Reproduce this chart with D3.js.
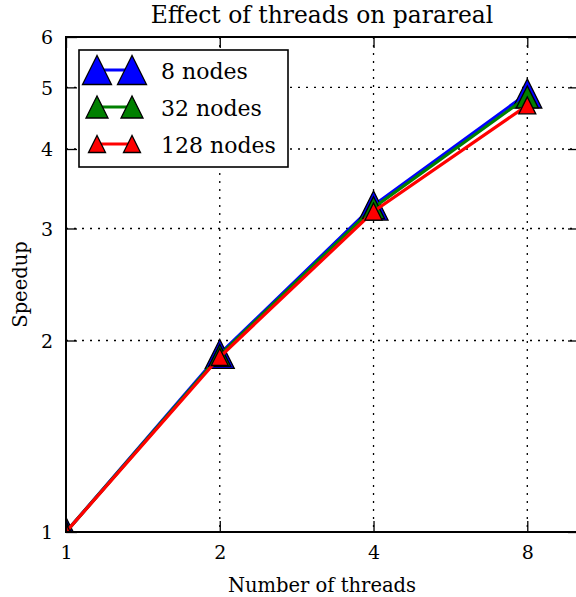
<!DOCTYPE html>
<html>
<head>
<meta charset="utf-8">
<script src="https://cdn.jsdelivr.net/npm/d3@7"></script>
<style>
  body { margin: 0; background: #fff; }
  text { font-family: "DejaVu Serif", serif; fill: #000; }
</style>
</head>
<body>
<div id="chart"></div>
<script>
// data
const threads = [1, 2, 4, 8];
const seriesNames = ["8 nodes", "32 nodes", "128 nodes"];
const speedup8 = [1, 1.905, 3.26, 4.89];
const speedup32 = [1, 1.895, 3.235, 4.83];
const speedup128 = [1, 1.884, 3.19, 4.685];
const xTicks = [1, 2, 4, 8];
const yTicks = [1, 2, 3, 4, 5, 6];

const colors = ["#0000ff", "#008000", "#ff0000"];
const markerSize = [29, 22, 17];
const allSeries = [speedup8, speedup32, speedup128];

const svgWidth = 576;
const svgHeight = 597;
// right edge of the axes sits just past the picture, like the reference
const margin = { top: 37, right: -3, bottom: 65, left: 66 };
const width = svgWidth - margin.left - margin.right;
const height = svgHeight - margin.top - margin.bottom;

const svg = d3.select("#chart").append("svg")
    .attr("width", svgWidth)
    .attr("height", svgHeight);

svg.append("rect").attr("width", svgWidth).attr("height", svgHeight).attr("fill", "#fff");

const chartGroup = svg.append("g")
    .attr("transform", `translate(${margin.left}, ${margin.top})`);

// x max 10 so 8 lands at the same place as the reference
const x = d3.scaleLog().base(2).domain([1, 10.1]).range([0, width]);
const y = d3.scaleLog().domain([1, 6]).range([height, 0]);

// grid
const grid = chartGroup.append("g");
grid.selectAll(".gx").data(xTicks.slice(1)).enter().append("line")
    .attr("x1", d => x(d)).attr("x2", d => x(d))
    .attr("y1", 0).attr("y2", height)
    .attr("stroke", "#000").attr("stroke-width", 1.3).attr("stroke-dasharray", "2,6");
grid.selectAll(".gy").data(yTicks.slice(1, -1)).enter().append("line")
    .attr("y1", d => y(d)).attr("y2", d => y(d))
    .attr("x1", 0).attr("x2", width)
    .attr("stroke", "#000").attr("stroke-width", 1.3).attr("stroke-dasharray", "2,6");

// clip to axes area
svg.append("defs").append("clipPath").attr("id", "clip")
    .append("rect").attr("width", width).attr("height", height);

const plot = chartGroup.append("g").attr("clip-path", "url(#clip)");

const line = d3.line().x((d, i) => x(threads[i])).y(d => y(d));

function triangle(s) {
    const h = s / 2;
    return `M0,${-h}L${-h},${h}L${h},${h}Z`;
}

allSeries.forEach((vals, k) => {
    plot.append("path")
        .datum(vals)
        .attr("d", line)
        .attr("fill", "none")
        .attr("stroke", colors[k])
        .attr("stroke-width", 3.2);
    plot.selectAll(".m" + k).data(vals).enter().append("path")
        .attr("transform", (d, i) => `translate(${x(threads[i])},${y(d)})`)
        .attr("d", triangle(markerSize[k]))
        .attr("fill", colors[k])
        .attr("stroke", "#000")
        .attr("stroke-width", 1.3)
        .attr("stroke-linejoin", "miter");
});

// axes (ticks inside, on all sides)
const tickLen = 11;
const bottomAxis = d3.axisBottom(x).tickValues(xTicks).tickFormat(d3.format("d"))
    .tickSizeInner(-tickLen).tickSizeOuter(0).tickPadding(14);
const topAxis = d3.axisTop(x).tickValues(xTicks).tickFormat("")
    .tickSizeInner(-tickLen).tickSizeOuter(0);
const leftAxis = d3.axisLeft(y).tickValues(yTicks).tickFormat(d3.format("d"))
    .tickSizeInner(-tickLen).tickSizeOuter(0).tickPadding(13);
const rightAxis = d3.axisRight(y).tickValues(yTicks).tickFormat("")
    .tickSizeInner(-tickLen).tickSizeOuter(0);

const xAxis = chartGroup.append("g").attr("transform", `translate(0, ${height})`).call(bottomAxis);
chartGroup.append("g").call(topAxis);
const yAxis = chartGroup.append("g").call(leftAxis);
chartGroup.append("g").attr("transform", `translate(${width}, 0)`).call(rightAxis);

chartGroup.selectAll(".domain").remove();
chartGroup.selectAll(".tick line").attr("stroke", "#000").attr("stroke-width", 1.3);
xAxis.selectAll("text").attr("font-size", 19).attr("font-family", "DejaVu Serif").attr("fill", "#000");
yAxis.selectAll("text").attr("font-size", 19).attr("font-family", "DejaVu Serif").attr("fill", "#000")
    .attr("dy", "0.36em");

// spines
chartGroup.append("rect")
    .attr("width", width).attr("height", height)
    .attr("fill", "none").attr("stroke", "#000").attr("stroke-width", 2);

// titles
svg.append("text")
    .attr("x", 322).attr("y", 23)
    .attr("text-anchor", "middle").attr("font-size", 23.4)
    .text("Effect of threads on parareal");
svg.append("text")
    .attr("x", 322).attr("y", 592)
    .attr("text-anchor", "middle").attr("font-size", 19.5)
    .text("Number of threads");
svg.append("text")
    .attr("transform", `translate(27, ${margin.top + height / 2}) rotate(-90)`)
    .attr("text-anchor", "middle").attr("font-size", 19.5)
    .text("Speedup");

// legend
const legend = svg.append("g").attr("transform", "translate(79, 50)");
legend.append("rect")
    .attr("width", 209).attr("height", 117)
    .attr("fill", "#fff").attr("stroke", "#000").attr("stroke-width", 1.6);
seriesNames.forEach((name, k) => {
    const cy = 20 + k * 37;
    legend.append("line")
        .attr("x1", 18).attr("x2", 53).attr("y1", cy).attr("y2", cy)
        .attr("stroke", colors[k]).attr("stroke-width", 3.2);
    [18, 53].forEach(cx => {
        legend.append("path")
            .attr("transform", `translate(${cx},${cy})`)
            .attr("d", triangle(markerSize[k]))
            .attr("fill", colors[k]).attr("stroke", "#000").attr("stroke-width", 1.3);
    });
    legend.append("text")
        .attr("x", 82).attr("y", cy + 9)
        .attr("font-size", 22)
        .text(name);
});
</script>
</body>
</html>
